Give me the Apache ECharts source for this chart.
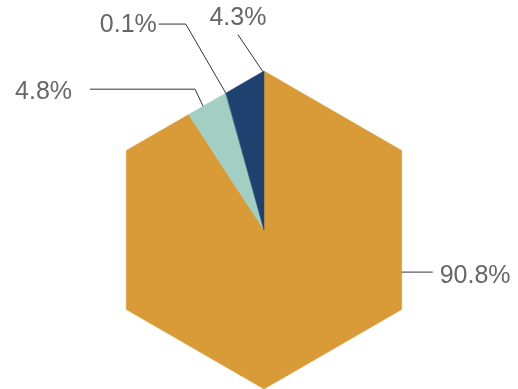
<!DOCTYPE html>
<html>
<head>
<meta charset="utf-8">
<script src="https://cdn.jsdelivr.net/npm/echarts@6/dist/echarts.min.js"></script>
<style>html,body{margin:0;padding:0;background:#fff}#chart{width:518px;height:389px}</style>
</head>
<body>
<div id="chart"></div>
<script>
// ---- data ----
const categories = ['Segment A', 'Segment B', 'Segment C', 'Segment D'];
const values = [90.8, 4.8, 0.1, 4.3];
const colors = ['#D99A38', '#A3CEC4', '#8A96A0', '#1F4170'];

// ---- label placement (style) ----
const labelAnchorAngles = [107, 333.8, 344.4, 359.6];
const labelElbow = [[0, 0], [-8, -17], [-40, -69], [-25, -37]];
const labelTail = [31, -105, -27, 0];
const labelTextOffset = [[7, 4], [-18, 3], [-2, 1.5], [0, -17]];
const labelAlign = ['left', 'right', 'right', 'center'];

const total = values.reduce((a, b) => a + b, 0);
const startAngles = [];
const endAngles = [];
let acc = 0;
values.forEach(v => {
  startAngles.push(acc / total * 360);
  acc += v;
  endAngles.push(acc / total * 360);
});
const labels = values.map(v => (v / total * 100).toFixed(1) + '%');

const CX = 264, CY = 230, R = 159;
function boundary(theta) {
  const t = ((theta % 60) + 60) % 60;
  const r = R * Math.cos(Math.PI / 6) / Math.cos((t - 30) * Math.PI / 180);
  const a = theta * Math.PI / 180;
  return [CX + r * Math.sin(a), CY - r * Math.cos(a)];
}

const chart = echarts.init(document.getElementById('chart'), null, {renderer: 'canvas'});
chart.setOption({
  animation: false,
  backgroundColor: '#ffffff',
  series: [{
    type: 'custom',
    coordinateSystem: 'none',
    data: values.map((v, i) => [i, v]),
    renderItem: function (params, api) {
      const i = api.value(0);
      const s = startAngles[i], e = endAngles[i];
      const pts = [[CX, CY], boundary(s)];
      for (let k = Math.ceil(s / 60); k * 60 < e; k++) {
        if (k * 60 > s) pts.push(boundary(k * 60));
      }
      pts.push(boundary(e));
      const anchor = boundary(labelAnchorAngles[i]);
      const elbow = [anchor[0] + labelElbow[i][0], anchor[1] + labelElbow[i][1]];
      const end = [elbow[0] + labelTail[i], elbow[1]];
      return {
        type: 'group',
        children: [
          {type: 'polygon', shape: {points: pts}, style: {fill: colors[i], stroke: colors[i], lineWidth: 0.5}, z2: 1},
          {type: 'polyline', shape: {points: [anchor, elbow, end]}, style: {stroke: '#333', lineWidth: 1, fill: null}, z2: 5},
          {type: 'text', z2: 6, style: {
            text: labels[i],
            x: end[0] + labelTextOffset[i][0],
            y: end[1] + labelTextOffset[i][1],
            fill: '#666666',
            font: '25px "Liberation Sans", Arial, sans-serif',
            align: labelAlign[i],
            verticalAlign: 'middle'
          }}
        ]
      };
    }
  }]
});
</script>
</body>
</html>
